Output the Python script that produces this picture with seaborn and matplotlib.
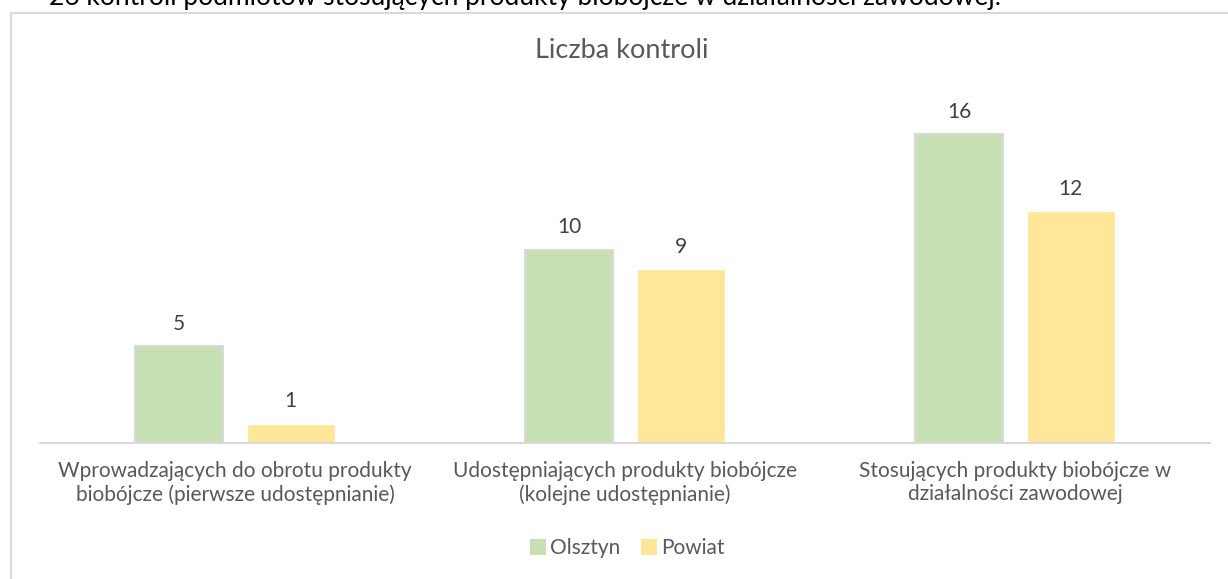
import matplotlib
matplotlib.use("Agg")
from matplotlib import pyplot as plt
from matplotlib.patches import Rectangle
import seaborn as sns
import pandas as pd

# chart data
categories = [
    "Wprowadzających do obrotu produkty\nbiobójcze (pierwsze udostępnianie)",
    "Udostępniających produkty biobójcze\n(kolejne udostępnianie)",
    "Stosujących produkty biobójcze w\ndziałalności zawodowej",
]
series = ["Olsztyn", "Powiat"]
olsztyn = [5, 10, 16]
powiat = [1, 9, 12]
colors = ["#C6E0B4", "#FFE699"]

df = pd.DataFrame({
    "kategoria": categories * 2,
    "seria": [series[0]] * 3 + [series[1]] * 3,
    "liczba": olsztyn + powiat,
})

sns.set_style("white")
plt.rcParams["font.family"] = ["Lato", "DejaVu Sans"]

fig = plt.figure(figsize=(12.28, 5.79), dpi=100)
ax = fig.add_axes([0.0326, 0.2349, 0.9527, 0.60])

sns.barplot(data=df, x="kategoria", y="liczba", hue="seria", order=categories,
            hue_order=series, palette=colors, width=0.572, gap=0.211,
            saturation=1, ax=ax, legend=False)

# grey outline only on the green bars
for bar in ax.containers[0]:
    bar.set_edgecolor("#D9D9D9")
    bar.set_linewidth(1.5)

for cont in ax.containers:
    ax.bar_label(cont, padding=9, fontsize=15, color="#404040")

ax.set_ylim(0, 18)
ax.set_xlim(-0.5, 2.5)
ax.set_xlabel("")
ax.set_ylabel("")
ax.set_yticks([])
ax.tick_params(axis="x", length=0, pad=13, labelsize=15, labelcolor="#595959")
for side in ["top", "left", "right"]:
    ax.spines[side].set_visible(False)
ax.spines["bottom"].set_color("#D9D9D9")
ax.spines["bottom"].set_linewidth(1.5)

fig.text(0.5065, 0.913, "Liczba kontroli", ha="center", va="center",
         fontsize=19.5, color="#595959")

# legend
handles = [Rectangle((0, 0), 1, 1, facecolor=c, edgecolor="none") for c in colors]
fig.legend(handles, series, loc="center", bbox_to_anchor=(0.511, 0.053), ncol=2,
           frameon=False, fontsize=15, handlelength=0.75, handleheight=0.75,
           handletextpad=0.2, columnspacing=1.0, labelcolor="#595959")

# chart area border
fig.patches.append(Rectangle((0.0086, -0.05), 1.1, 1.028, transform=fig.transFigure,
                             fill=False, edgecolor="#D9D9D9", linewidth=1.5))

# clipped line of the surrounding document text
fig.text(0.04, 1 - 5 / 579, "26 kontroli podmiotów stosujących produkty biobójcze w działalności zawodowej.",
         ha="left", va="baseline", fontsize=19, color="black")

fig.savefig("out.png", dpi=100)
